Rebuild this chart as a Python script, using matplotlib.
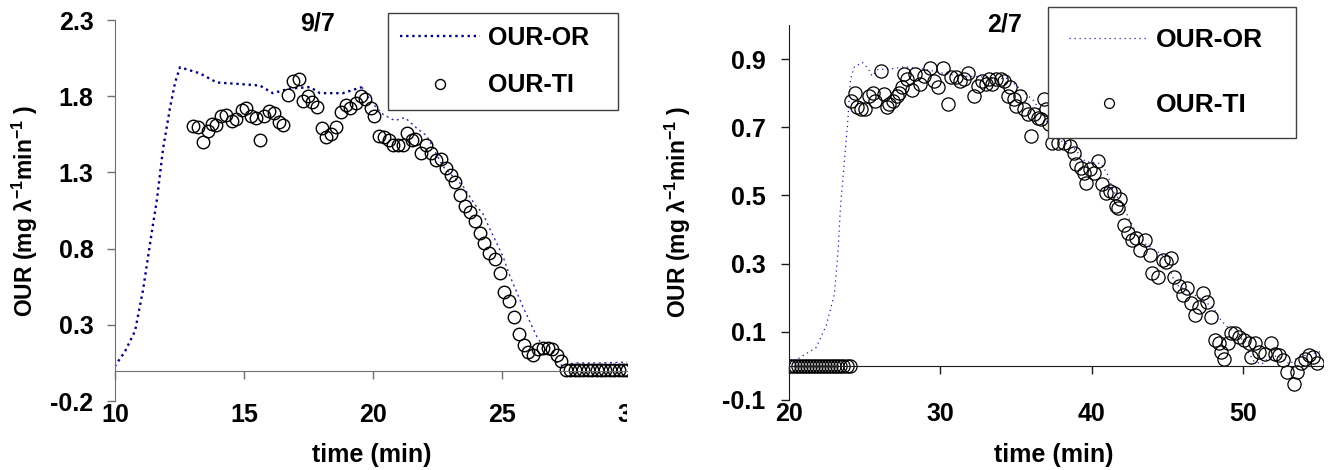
import matplotlib
matplotlib.use("Agg")
import matplotlib.pyplot as plt
from matplotlib.transforms import Bbox, TransformedBbox, ScaledTranslation

plt.rcParams['font.family'] = ['Liberation Sans', 'DejaVu Sans']
plt.rcParams['font.weight'] = 'bold'
plt.rcParams['axes.labelweight'] = 'bold'
plt.rcParams['mathtext.fontset'] = 'custom'
plt.rcParams['mathtext.rm'] = 'Liberation Sans:bold'
plt.rcParams['mathtext.bf'] = 'Liberation Sans:bold'
plt.rcParams['mathtext.default'] = 'bf'

# ---- 9/7 run ----
or97_t = [9.9, 10.0, 10.39, 10.78, 11.09, 11.43, 11.63, 11.86, 12.13, 12.33, 12.52, 13.29, 13.95,
          14.84, 15.62, 16.12, 16.78, 17.56, 17.95, 18.84, 19.57, 20.0, 20.4, 20.85, 21.24, 21.7,
          22.09, 22.71, 23.49, 23.95, 24.26, 24.53, 25.04, 25.31, 25.81, 26.36, 26.6, 26.98, 27.36,
          27.8, 28.67, 29.9]
or97_v = [-0.01, 0.03, 0.125, 0.26, 0.53, 0.91, 1.125, 1.45, 1.72, 1.89, 1.99, 1.95, 1.89,
          1.88, 1.87, 1.82, 1.85, 1.86, 1.82, 1.82, 1.86, 1.75, 1.68, 1.64, 1.66, 1.59,
          1.54, 1.34, 1.21, 1.09, 1.03, 0.93, 0.75, 0.62, 0.42, 0.22, 0.16, 0.07, 0.03,
          0.05, 0.05, 0.055]
ti97_t = [13.01, 13.2, 13.42, 13.59, 13.77, 13.91, 14.1, 14.3, 14.52, 14.71, 14.91, 15.08, 15.27,
          15.47, 15.62, 15.79, 15.97, 16.16, 16.36, 16.5, 16.72, 16.91, 17.12, 17.28, 17.48, 17.63,
          17.82, 18.03, 18.2, 18.37, 18.57, 18.76, 18.94, 19.13, 19.33, 19.53, 19.71, 19.91, 20.04,
          20.24, 20.43, 20.61, 20.79, 20.98, 21.15, 21.33, 21.5, 21.63, 21.85, 22.05, 22.25, 22.44,
          22.64, 22.82, 23.01, 23.2, 23.37, 23.57, 23.76, 23.95, 24.15, 24.32, 24.51, 24.73, 24.92,
          25.08, 25.26, 25.47, 25.67, 25.85, 26.03, 26.21, 26.41, 26.6, 26.79, 26.96, 27.12, 27.31,
          27.48, 27.65, 27.82, 27.99, 28.16, 28.33, 28.5, 28.67, 28.84, 29.01, 29.18, 29.35, 29.52,
          29.69, 29.86]
ti97_v = [1.607, 1.6, 1.5, 1.575, 1.62, 1.61, 1.67, 1.68, 1.64, 1.65, 1.71, 1.72, 1.67,
          1.66, 1.51, 1.67, 1.705, 1.69, 1.63, 1.61, 1.81, 1.9, 1.91, 1.77, 1.8, 1.76,
          1.73, 1.59, 1.535, 1.55, 1.6, 1.695, 1.74, 1.72, 1.755, 1.8, 1.78, 1.72, 1.67,
          1.54, 1.535, 1.51, 1.48, 1.48, 1.48, 1.56, 1.51, 1.52, 1.43, 1.48, 1.43, 1.38,
          1.39, 1.33, 1.28, 1.24, 1.15, 1.08, 1.04, 0.98, 0.905, 0.84, 0.77, 0.73, 0.64,
          0.515, 0.456, 0.35, 0.24, 0.165, 0.12, 0.1, 0.14, 0.15, 0.15, 0.14, 0.105, 0.06,
          0.005, 0.005, 0.005, 0.005, 0.005, 0.005, 0.005, 0.005, 0.005, 0.005, 0.005, 0.005, 0.005,
          0.005, 0.005]

# ---- 2/7 run ----
or27_t = [20.08, 20.74, 21.8, 22.47, 23.0, 23.26, 23.4, 23.66, 23.87, 24.06, 24.32, 24.85, 25.25,
          25.5, 25.9, 26.56, 27.64, 28.97, 30.0, 31.35, 32.66, 33.74, 34.53, 35.33, 36.12, 36.6,
          37.3, 37.98, 38.77, 39.57, 40.63, 41.03, 41.43, 42.22, 42.75, 43.55, 44.61, 45.14, 45.54,
          46.33, 47.13, 48.06, 48.58, 49.12, 49.78, 50.17, 50.71, 51.24, 51.77, 52.3, 53.1, 53.63,
          54.42, 55.35]
or27_v = [0.005, 0.025, 0.054, 0.12, 0.21, 0.35, 0.465, 0.6, 0.71, 0.84, 0.877, 0.89, 0.87,
          0.85, 0.87, 0.87, 0.877, 0.87, 0.86, 0.85, 0.848, 0.843, 0.843, 0.81, 0.78, 0.75,
          0.7, 0.66, 0.642, 0.6, 0.593, 0.564, 0.515, 0.456, 0.407, 0.358, 0.328, 0.289, 0.24,
          0.22, 0.2, 0.17, 0.132, 0.108, 0.093, 0.054, 0.015, 0.005, 0.025, 0.03, 0.005, 0.025,
          0.034, 0.044]
ti27_t = [20.0, 20.2, 20.4, 20.6, 20.8, 21.0, 21.2, 21.4, 21.6, 21.8, 22.0, 22.2, 22.4, 22.6,
          22.8, 23.0, 23.2, 23.4, 23.6, 23.8, 24.0,
          24.11, 24.38, 24.51, 24.78, 25.04, 25.31, 25.57, 25.71, 26.1, 26.29, 26.45, 26.64, 26.9,
          27.11, 27.3, 27.49, 27.62, 27.78, 28.1, 28.36, 28.68, 28.89, 29.29, 29.56, 29.82, 30.17,
          30.49, 30.7, 31.02, 31.28, 31.55, 31.81, 32.21, 32.48, 32.74, 33.01, 33.19, 33.41, 33.67,
          33.99, 34.2, 34.6, 34.47, 34.87, 35.26, 35.0, 35.53, 35.8, 36.0, 36.19, 36.46, 36.64,
          36.86, 36.99, 37.2, 37.39, 37.79, 38.18, 38.58, 38.85, 38.98, 39.3, 39.51, 39.64, 39.91,
          40.17, 40.44, 40.71, 40.97, 41.24, 41.5, 41.64, 41.77, 41.9, 42.17, 42.43, 42.7, 42.96,
          43.23, 43.55, 43.89, 44.02, 44.42, 44.69, 44.95, 45.22, 45.48, 45.75, 46.02, 46.28, 46.55,
          46.81, 47.08, 47.35, 47.61, 47.88, 48.14, 48.4, 48.54, 48.75, 49.02, 49.2, 49.47, 49.73,
          50.08, 50.4, 50.53, 50.79, 51.06, 51.46, 51.86, 52.12, 52.39, 52.65, 52.92, 53.4, 53.58,
          53.85, 54.11, 54.38, 54.65, 54.91]
ti27_v = [0.0, 0.0, 0.0, 0.0, 0.0, 0.0, 0.0, 0.0, 0.0, 0.0, 0.0, 0.0, 0.0, 0.0,
          0.0, 0.0, 0.0, 0.0, 0.0, 0.0, 0.0,
          0.777, 0.8, 0.758, 0.753, 0.753, 0.792, 0.8, 0.777, 0.866, 0.797, 0.758, 0.767, 0.777,
          0.792, 0.8, 0.817, 0.856, 0.84, 0.81, 0.856, 0.826, 0.85, 0.875, 0.836, 0.817, 0.875,
          0.767, 0.846, 0.846, 0.836, 0.84, 0.86, 0.792, 0.82, 0.836, 0.826, 0.84, 0.826, 0.84,
          0.84, 0.836, 0.817, 0.792, 0.782, 0.792, 0.763, 0.753, 0.738, 0.674, 0.738, 0.728, 0.723,
          0.782, 0.753, 0.71, 0.655, 0.655, 0.655, 0.645, 0.625, 0.591, 0.581, 0.566, 0.537, 0.576,
          0.566, 0.6, 0.532, 0.507, 0.512, 0.507, 0.468, 0.463, 0.488, 0.414, 0.39, 0.37, 0.375,
          0.34, 0.37, 0.326, 0.272, 0.262, 0.311, 0.306, 0.316, 0.262, 0.233, 0.208, 0.228, 0.183,
          0.149, 0.174, 0.213, 0.188, 0.144, 0.075, 0.066, 0.041, 0.021, 0.066, 0.095, 0.095, 0.085,
          0.075, 0.066, 0.026, 0.066, 0.041, 0.036, 0.066, 0.036, 0.031, 0.016, -0.018, -0.052, -0.018,
          0.007, 0.021, 0.031, 0.026, 0.007]

ylab = 'OUR (mg λ$^{-1}$min$^{-1}$ )'

fig = plt.figure(figsize=(13.29, 4.70), dpi=100)
ax1 = fig.add_axes([0.0865, 0.1468, 0.3853, 0.8106])
ax2 = fig.add_axes([0.5937, 0.149, 0.4018, 0.798])


def style_axes(ax, xlim, ylim, yticks, xticks, col, ypad):
    ax.set_xlim(*xlim)
    ax.set_ylim(*ylim)
    for s in ['top', 'right']:
        ax.spines[s].set_visible(False)
    ax.spines['bottom'].set_position(('data', 0))
    ax.spines['left'].set_color(col)
    ax.spines['bottom'].set_color(col)
    ax.set_yticks(yticks)
    ax.set_yticklabels(['%g' % v for v in yticks])
    ax.tick_params(axis='y', direction='out', length=6, width=1, color=col, pad=ypad, labelsize=18)
    ax.set_xticks(xticks)
    ax.tick_params(axis='x', direction='out', length=6, width=1, color=col, labelbottom=False)
    sec = ax.secondary_xaxis(0.0)
    sec.set_xticks(xticks)
    for s in sec.spines.values():
        s.set_visible(False)
    sec.tick_params(length=0, pad=1.5, labelsize=18)
    return sec


# left panel: model line is heavy up to ~19.6 min, then fades to a fine dotted trace
k = or97_t.index(19.57)
ax1.plot(or97_t[:k + 1], or97_v[:k + 1], color='#000080', lw=1.7, ls=(0, (1, 1.6)), label='OUR-OR')
ax1.plot(or97_t[k:], or97_v[k:], color='#3030b0', lw=1.0, ls=(0, (1.5, 2.5)))
ax1.plot(ti97_t, ti97_v, ls='none', marker='o', ms=9, mfc='none', mec='black', mew=1.0, label='OUR-TI')
style_axes(ax1, (10, 29.85), (-0.2, 2.3), [-0.2, 0.3, 0.8, 1.3, 1.8, 2.3], [10, 15, 20, 25], '#707070', 9.5)
t30 = ax1.text(30, 0, '30', fontsize=18, ha='center', va='top', clip_on=True,
               transform=ax1.get_xaxis_transform() + ScaledTranslation(0, -1.5 / 72, fig.dpi_scale_trans))
t30.set_clip_box(TransformedBbox(Bbox.from_extents(0, -0.5, 1, 1.5), ax1.transAxes))
ax1.text(0.395, 0.992, '9/7', transform=ax1.transAxes, fontsize=18, ha='center', va='center')
ax1.set_ylabel(ylab, fontsize=16.5)
ax1.yaxis.set_label_coords(-0.146, 0.5)
ax1.set_xlabel('time (min)', fontsize=18)
ax1.xaxis.set_label_coords(0.502, -0.11)
leg1 = ax1.legend(loc='upper left', bbox_to_anchor=(0.533, 0.761, 0.449, 0.257), mode='expand',
                  borderaxespad=0, fontsize=18, frameon=True, fancybox=False, framealpha=1,
                  edgecolor='#404040', handlelength=3.2, handletextpad=0.3, borderpad=0.5,
                  labelspacing=0.95, markerscale=0.8)
leg1.get_frame().set_linewidth(1.0)

# right panel
ax2.plot(or27_t, or27_v, color='#2020b0', lw=0.9, ls=(0, (1, 3)), label='OUR-OR')
ax2.plot(ti27_t, ti27_v, ls='none', marker='o', ms=9.5, mfc='none', mec='black', mew=0.9, label='OUR-TI')
style_axes(ax2, (20, 55.3), (-0.1, 1.0), [-0.1, 0.1, 0.3, 0.5, 0.7, 0.9], [20, 30, 40, 50], '#1a1a1a', 11)
ax2.text(0.403, 1.0, '2/7', transform=ax2.transAxes, fontsize=18, ha='center', va='center')
ax2.set_ylabel(ylab, fontsize=16.5)
ax2.yaxis.set_label_coords(-0.18, 0.5)
ax2.set_xlabel('time (min)', fontsize=18)
ax2.xaxis.set_label_coords(0.496, -0.115)
leg2 = ax2.legend(loc='upper left', bbox_to_anchor=(0.485, 0.691, 0.464, 0.357), mode='expand',
                  borderaxespad=0, fontsize=19, frameon=True, fancybox=False, framealpha=1,
                  edgecolor='#404040', handlelength=3.0, handletextpad=0.3, borderpad=0.8,
                  labelspacing=1.55, markerscale=0.75)
leg2.get_frame().set_linewidth(1.0)

fig.savefig('out.png', dpi=100)
